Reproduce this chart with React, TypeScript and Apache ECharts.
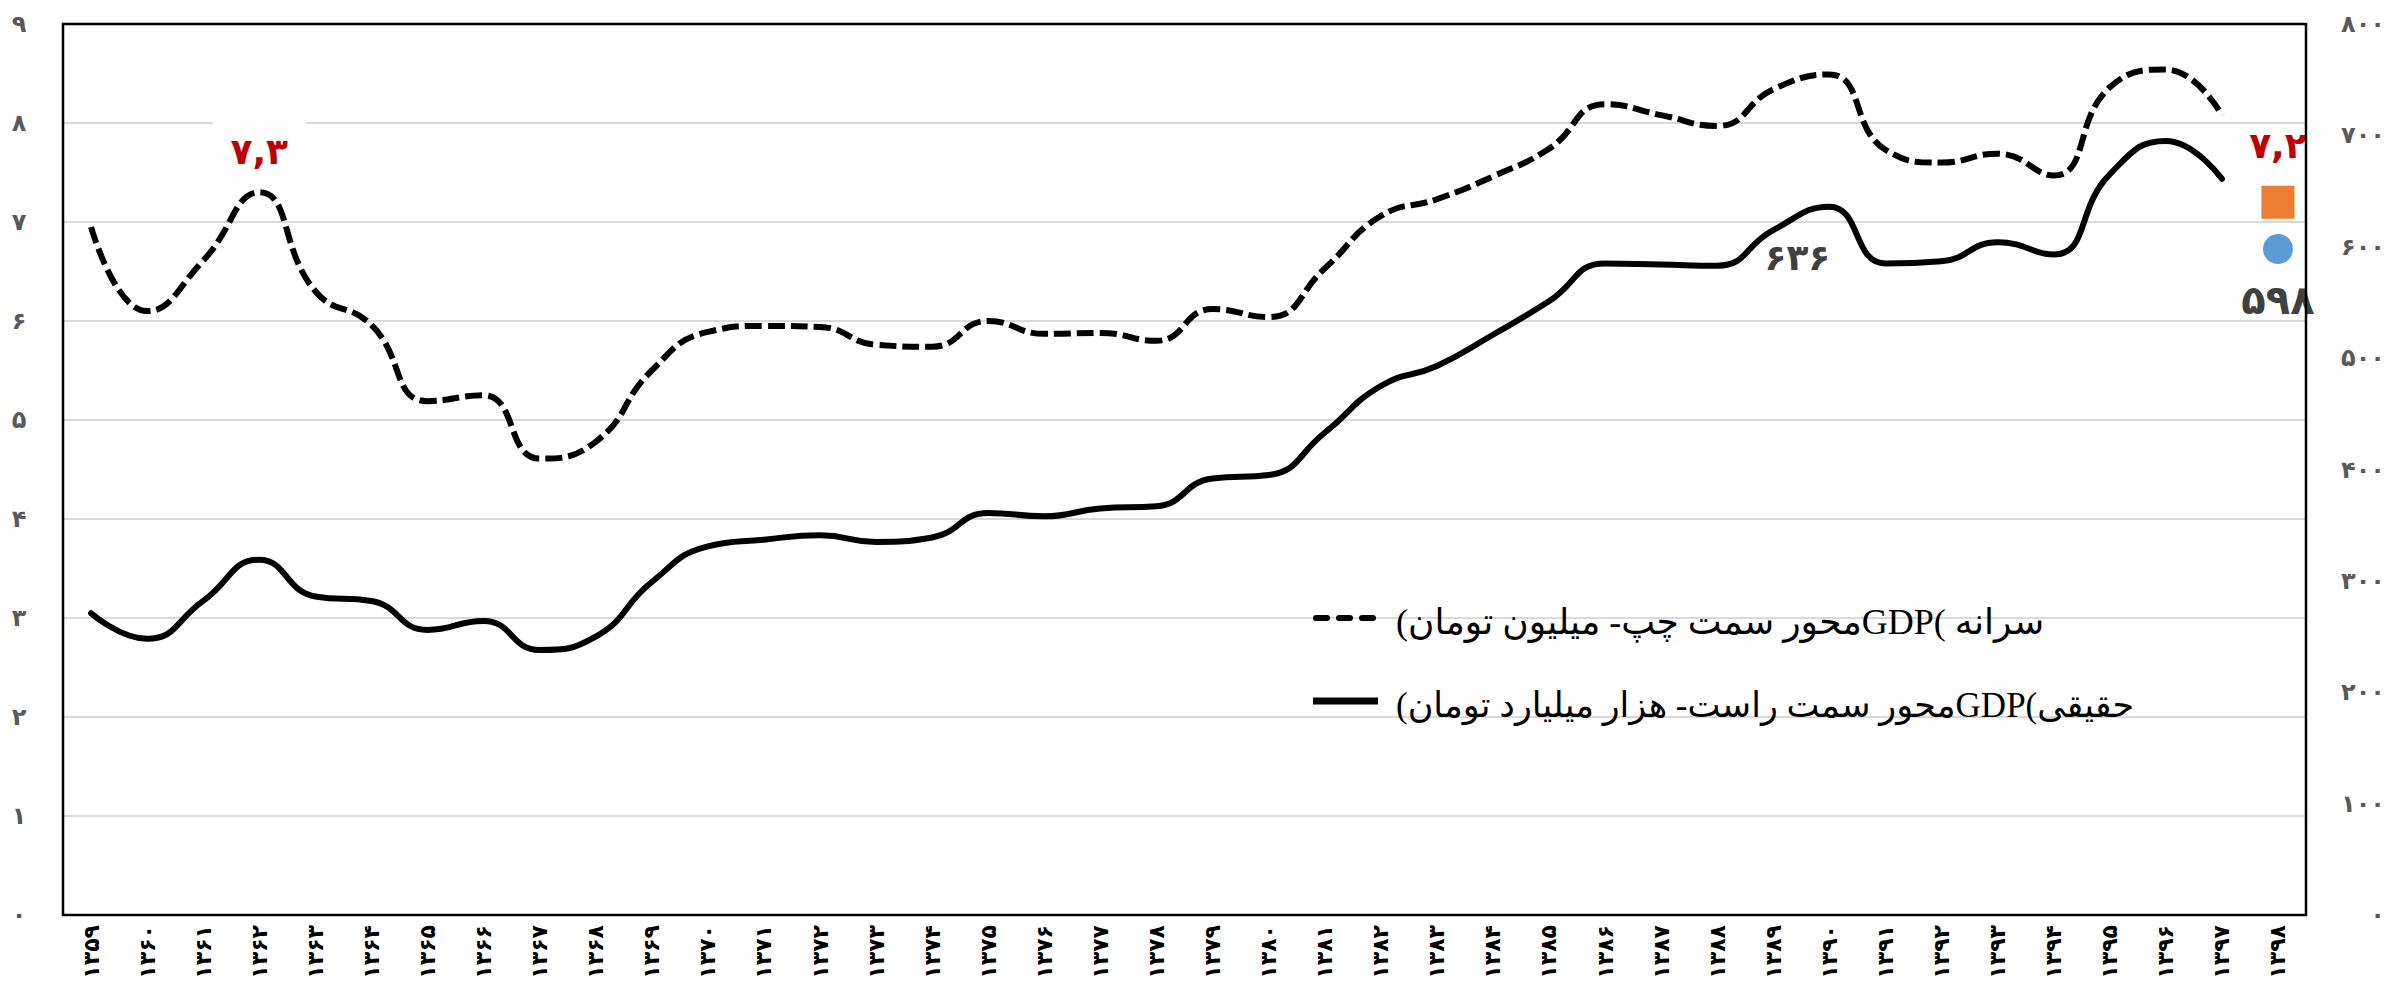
import React, { useEffect, useRef } from 'react';
import * as echarts from 'echarts';

const years = [
  '۱۳۵۹', '۱۳۶۰', '۱۳۶۱', '۱۳۶۲', '۱۳۶۳', '۱۳۶۴', '۱۳۶۵', '۱۳۶۶', '۱۳۶۷', '۱۳۶۸',
  '۱۳۶۹', '۱۳۷۰', '۱۳۷۱', '۱۳۷۲', '۱۳۷۳', '۱۳۷۴', '۱۳۷۵', '۱۳۷۶', '۱۳۷۷', '۱۳۷۸',
  '۱۳۷۹', '۱۳۸۰', '۱۳۸۱', '۱۳۸۲', '۱۳۸۳', '۱۳۸۴', '۱۳۸۵', '۱۳۸۶', '۱۳۸۷', '۱۳۸۸',
  '۱۳۸۹', '۱۳۹۰', '۱۳۹۱', '۱۳۹۲', '۱۳۹۳', '۱۳۹۴', '۱۳۹۵', '۱۳۹۶', '۱۳۹۷', '۱۳۹۸',
];

// GDP per capita (million toman) – left axis
const perCapita = [
  6.95, 6.1, 6.61, 7.3, 6.3, 5.96, 5.19, 5.25, 4.61, 4.78,
  5.5, 5.89, 5.95, 5.94, 5.76, 5.74, 6.0, 5.87, 5.88, 5.8,
  6.12, 6.04, 6.53, 7.06, 7.23, 7.46, 7.74, 8.19, 8.08, 7.97,
  8.34, 8.49, 7.73, 7.6, 7.69, 7.47, 8.36, 8.54, 8.08, null,
];

// Real GDP (thousand billion toman) – right axis
const realGdp = [
  271, 248, 282, 319, 286, 282, 256, 264, 238, 250,
  299, 331, 337, 341, 335, 339, 361, 358, 365, 367,
  392, 395, 433, 475, 493, 521, 551, 585, 584, 583,
  615, 636, 585, 587, 604, 593, 665, 695, 661, null,
];

const perCapita1398 = 7.2;
const realGdp1398 = 598;

const leftTicks = { min: 0, max: 9, interval: 1 };
const rightTicks = { min: 0, max: 800, interval: 100 };

const nameDashed = 'سرانه )GDPمحور سمت چپ- میلیون تومان)';
const nameSolid = 'حقیقی)GDPمحور سمت راست- هزار میلیارد تومان)';

const faDigits = '۰۱۲۳۴۵۶۷۸۹';
const toFa = (v: number | string) =>
  String(v).replace(/[0-9]/g, (d) => faDigits[Number(d)]).replace('.', ',');

const numFont = 'DejaVu Sans';
const legendFont = 'Liberation Serif, DejaVu Sans';
const RLE = '\u202B';
const PDF = '\u202C';

export default function App() {
  const ref = useRef<HTMLDivElement>(null);

  useEffect(() => {
    document.body.style.margin = '0';
    const chart = echarts.init(ref.current!, undefined, { renderer: 'svg' });

    const hiddenSymbol = {
      symbol: 'circle',
      symbolSize: 1,
      itemStyle: { color: 'rgba(0,0,0,0)' },
    };

    const dashedData = perCapita.map((v, i) =>
      i === 3
        ? {
            value: v,
            ...hiddenSymbol,
            label: {
              show: true,
              position: 'top',
              distance: 18,
              formatter: () => toFa(v as number),
              color: '#c00000',
              fontSize: 36,
              fontWeight: 'bold',
              fontFamily: numFont,
              backgroundColor: '#ffffff',
              padding: [16, 18, 4, 18],
            },
          }
        : { value: v, symbol: 'none' }
    );

    const solidData = realGdp.map((v, i) =>
      i === 31
        ? {
            value: v,
            ...hiddenSymbol,
            label: {
              show: true,
              position: 'bottom',
              distance: 32,
              offset: [-32, 0],
              formatter: () => toFa(v as number),
              color: '#404040',
              fontSize: 36,
              fontWeight: 'bold',
              fontFamily: numFont,
            },
          }
        : { value: v, symbol: 'none' }
    );

    const option = {
      animation: false,
      backgroundColor: '#ffffff',
      grid: {
        left: 63,
        right: 94,
        top: 24,
        bottom: 75,
        show: false,
      },
      graphic: [
        {
          type: 'rect',
          z: 50,
          silent: true,
          shape: { x: 63, y: 24, width: 2243, height: 891 },
          style: { fill: 'none', stroke: '#000000', lineWidth: 2.5 },
        },
        {
          type: 'line',
          z: 50,
          shape: { x1: 1316, y1: 618, x2: 1376, y2: 618 },
          style: { stroke: '#000000', lineWidth: 6, lineDash: [11, 12], lineCap: 'round' },
        },
        {
          type: 'line',
          z: 50,
          shape: { x1: 1313, y1: 701, x2: 1378, y2: 701 },
          style: { stroke: '#000000', lineWidth: 7 },
        },
        {
          type: 'text',
          z: 50,
          x: 1396,
          y: 622,
          style: {
            text: RLE + nameDashed + PDF,
            fill: '#000000',
            fontSize: 36,
            fontFamily: legendFont,
            align: 'left',
            verticalAlign: 'middle',
          },
        },
        {
          type: 'text',
          z: 50,
          x: 1396,
          y: 705,
          style: {
            text: RLE + nameSolid + PDF,
            fill: '#000000',
            fontSize: 35,
            fontFamily: legendFont,
            align: 'left',
            verticalAlign: 'middle',
          },
        },
      ],
      xAxis: {
        type: 'category',
        data: years,
        boundaryGap: true,
        axisLine: { show: false },
        axisTick: { show: false },
        splitLine: { show: false },
        axisLabel: {
          interval: 0,
          rotate: 90,
          margin: 10,
          fontSize: 22,
          fontWeight: 'bold',
          color: '#000000',
          fontFamily: numFont,
        },
      },
      yAxis: [
        {
          type: 'value',
          ...leftTicks,
          position: 'left',
          axisLine: { show: false },
          axisTick: { show: false },
          splitLine: { show: true, lineStyle: { color: '#d9d9d9', width: 2 } },
          axisLabel: {
            margin: 44,
            align: 'center',
            fontSize: 24,
            fontWeight: 'bold',
            color: '#595959',
            fontFamily: numFont,
            formatter: (v: number) => toFa(v),
          },
        },
        {
          type: 'value',
          ...rightTicks,
          position: 'right',
          axisLine: { show: false },
          axisTick: { show: false },
          splitLine: { show: false },
          axisLabel: {
            margin: 79,
            align: 'right',
            fontSize: 24,
            fontWeight: 'bold',
            color: '#595959',
            fontFamily: numFont,
            formatter: (v: number) => toFa(v),
          },
        },
      ],
      series: [
        {
          name: nameDashed,
          type: 'line',
          yAxisIndex: 0,
          data: dashedData,
          smooth: 0.5,
          showSymbol: true,
          showAllSymbol: true,
          symbol: 'none',
          lineStyle: { color: '#000000', width: 6, type: [17, 6] },
          z: 3,
        },
        {
          name: nameSolid,
          type: 'line',
          yAxisIndex: 1,
          data: solidData,
          smooth: 0.5,
          showSymbol: true,
          showAllSymbol: true,
          symbol: 'none',
          lineStyle: { color: '#000000', width: 6, cap: 'round' },
          z: 3,
        },
        {
          name: 'sq',
          type: 'scatter',
          yAxisIndex: 0,
          data: [[years[39], perCapita1398]],
          symbol: 'rect',
          symbolSize: 33,
          itemStyle: { color: '#ed7d31', opacity: 1 },
          label: {
            show: true,
            position: 'top',
            distance: 22,
            formatter: () => toFa(perCapita1398),
            color: '#c00000',
            fontSize: 36,
            fontWeight: 'bold',
            fontFamily: numFont,
          },
          z: 4,
        },
        {
          name: 'ci',
          type: 'scatter',
          yAxisIndex: 1,
          data: [[years[39], realGdp1398]],
          symbol: 'circle',
          symbolSize: 30,
          itemStyle: { color: '#5b9bd5', opacity: 1 },
          label: {
            show: true,
            position: 'bottom',
            distance: 16,
            formatter: () => toFa(realGdp1398),
            color: '#404040',
            fontSize: 40,
            fontWeight: 'bold',
            fontFamily: numFont,
          },
          z: 4,
        },
      ],
    };

    chart.setOption(option as any);
    return () => chart.dispose();
  }, []);

  return (
    <div
      ref={ref}
      style={{ position: 'absolute', left: 0, top: 0, width: 2400, height: 990 }}
    />
  );
}
